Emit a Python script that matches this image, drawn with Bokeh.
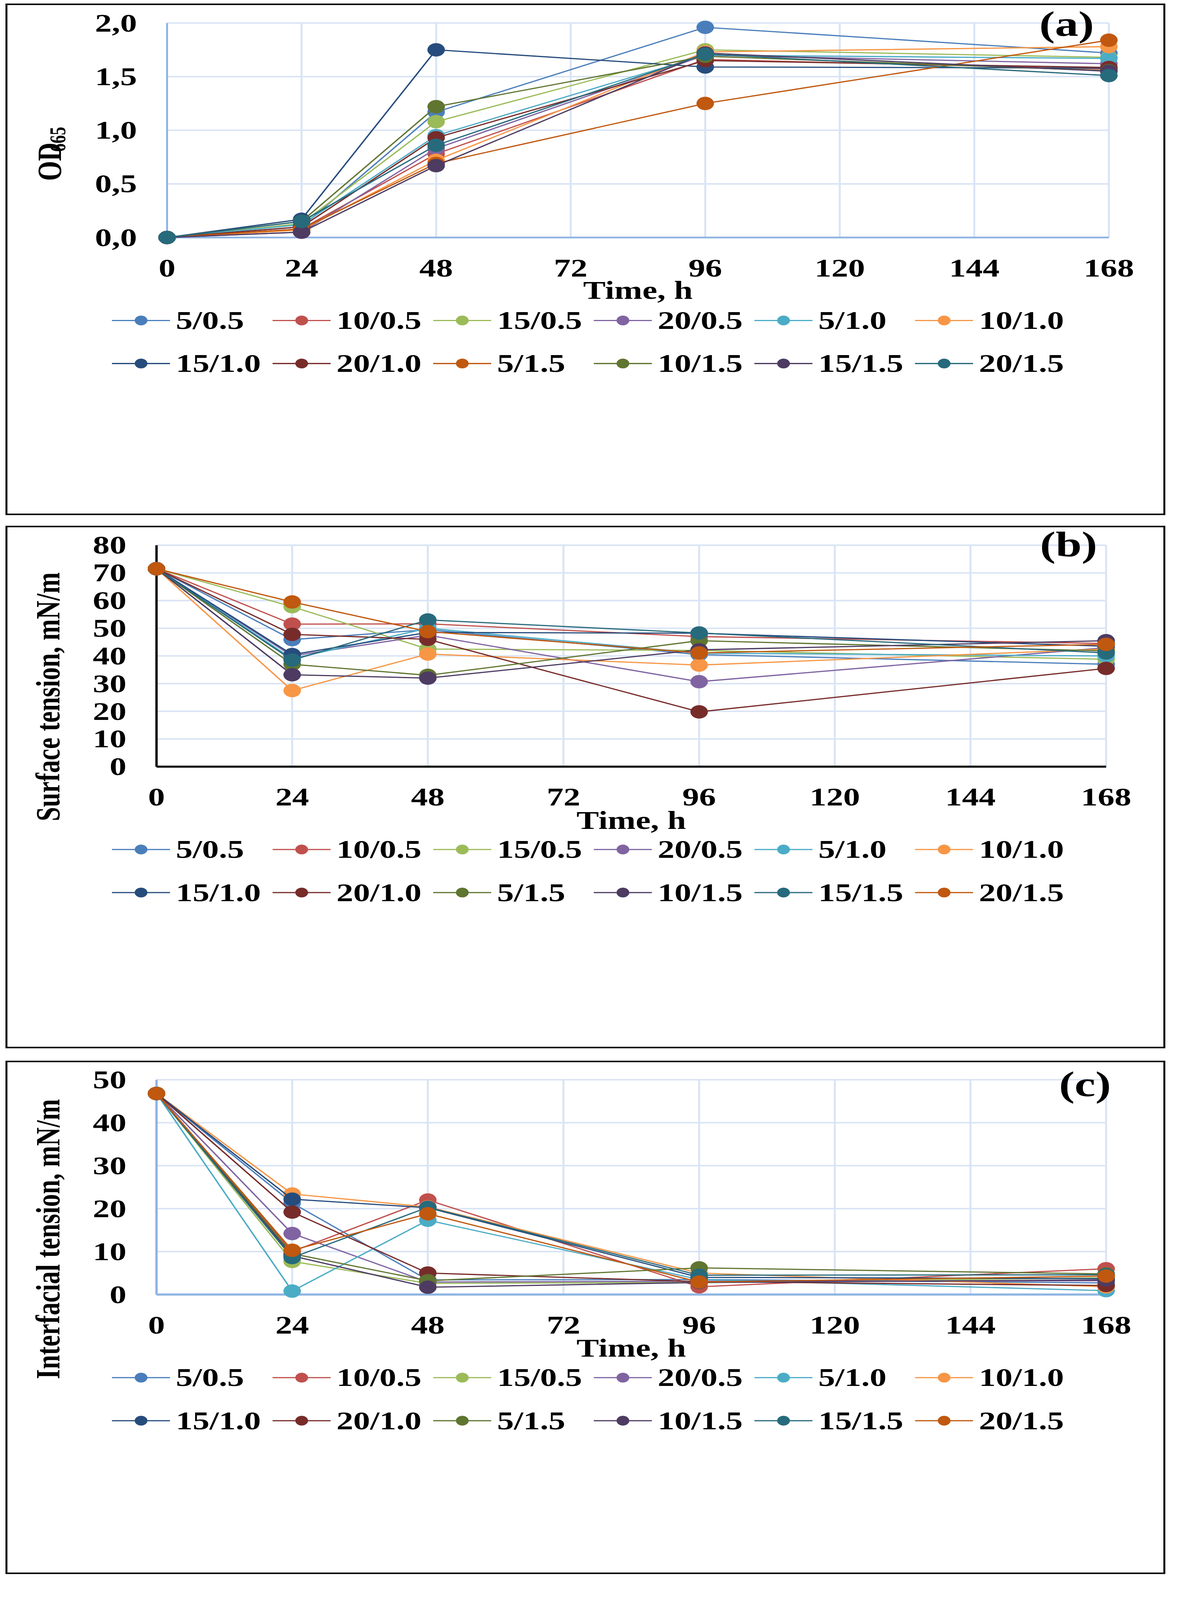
from bokeh.plotting import figure
from bokeh.models import FixedTicker, Legend, LegendItem, Label, Range1d
from bokeh.layouts import column
from bokeh.embed import file_html
from bokeh.resources import INLINE

# ---------------- data ----------------
times = [0, 24, 48, 96, 168]
x_ticks = [0, 24, 48, 72, 96, 120, 144, 168]

series_labels = ["5/0.5", "10/0.5", "15/0.5", "20/0.5", "5/1.0", "10/1.0",
                 "15/1.0", "20/1.0", "5/1.5", "10/1.5", "15/1.5", "20/1.5"]

BLUE, RED, GREEN, PURPLE = "#4A7EBB", "#C0504D", "#9BBB59", "#8064A2"
AQUA, ORANGE, NAVY, DRED = "#4BACC6", "#F79646", "#264C7D", "#772C2A"
DORANGE, OLIVE, DPURPLE, TEAL = "#C0580F", "#5F7530", "#4D3B62", "#276A7C"

colors_a = [BLUE, RED, GREEN, PURPLE, AQUA, ORANGE, NAVY, DRED, DORANGE, OLIVE, DPURPLE, TEAL]
colors_bc = [BLUE, RED, GREEN, PURPLE, AQUA, ORANGE, NAVY, DRED, OLIVE, DPURPLE, TEAL, DORANGE]

# (a) OD665
od_values = [
    [0.0, 0.10, 1.17, 1.96, 1.72],
    [0.0, 0.08, 0.78, 1.66, 1.57],
    [0.0, 0.13, 1.08, 1.75, 1.68],
    [0.0, 0.05, 0.83, 1.70, 1.62],
    [0.0, 0.12, 0.95, 1.70, 1.67],
    [0.0, 0.07, 0.72, 1.73, 1.78],
    [0.0, 0.17, 1.75, 1.59, 1.58],
    [0.0, 0.10, 0.93, 1.65, 1.585],
    [0.0, 0.08, 0.69, 1.25, 1.84],
    [0.0, 0.15, 1.22, 1.69, 1.555],
    [0.0, 0.05, 0.67, 1.72, 1.55],
    [0.0, 0.15, 0.86, 1.71, 1.51],
]
od_ticks = [0, 0.5, 1.0, 1.5, 2.0]
od_tick_labels = ["0,0", "0,5", "1,0", "1,5", "2,0"]

# (b) surface tension
st_values = [
    [71.5, 45.9, 49.5, 40.5, 37.0],
    [71.5, 51.5, 51.6, 47.0, 44.5],
    [71.5, 57.8, 42.5, 42.0, 38.8],
    [71.5, 40.0, 47.5, 30.7, 43.0],
    [71.5, 39.0, 50.0, 41.0, 40.0],
    [71.5, 27.5, 40.7, 36.7, 42.5],
    [71.5, 40.5, 48.5, 48.2, 43.5],
    [71.5, 47.8, 46.0, 19.8, 35.5],
    [71.5, 37.0, 33.0, 45.5, 41.8],
    [71.5, 33.2, 32.0, 42.2, 45.5],
    [71.5, 38.5, 53.0, 48.3, 41.1],
    [71.5, 59.5, 48.8, 41.1, 44.2],
]
st_ticks = [0, 10, 20, 30, 40, 50, 60, 70, 80]
st_tick_labels = ["0", "10", "20", "30", "40", "50", "60", "70", "80"]

# (c) interfacial tension
ift_values = [
    [46.8, 21.3, 3.4, 3.5, 2.7],
    [46.8, 10.0, 22.0, 1.8, 6.0],
    [46.8, 7.7, 2.6, 2.8, 3.9],
    [46.8, 14.2, 2.9, 3.1, 3.2],
    [46.8, 0.8, 17.3, 3.5, 0.9],
    [46.8, 23.4, 20.4, 5.0, 1.8],
    [46.8, 22.2, 20.2, 4.0, 3.7],
    [46.8, 19.2, 5.0, 3.0, 2.1],
    [46.8, 9.5, 3.2, 6.2, 4.8],
    [46.8, 9.0, 1.7, 2.8, 3.4],
    [46.8, 8.6, 20.3, 4.5, 4.6],
    [46.8, 10.3, 18.8, 2.9, 4.3],
]
ift_ticks = [0, 10, 20, 30, 40, 50]
ift_tick_labels = ["0", "10", "20", "30", "40", "50"]

# ---------------- styling / geometry (page pixels) ----------------
FONT = "Liberation Serif"
FS = "86px"
GRID = "#D9E4F5"
W = 2968            # canvas width
CX0 = 27            # canvas left on page
PAGE_SY = 0.76      # vertical squeeze of the whole page so it fits the photographed window


def text_label(x, y, text, size=FS, angle=0.0, align="center"):
    return Label(x=x, y=y, text=text, angle=angle, text_align=align,
                 text_baseline="middle", text_font=FONT, text_font_style="bold",
                 text_font_size=size, text_color="black")


def make_panel(values, colors, yticks, yticklabels, geom, margin_top,
               axis_color, axis_w, ytitles, tag, tag_pos, time_y, legend_bottom):
    cy0, H, x0px, xendpx, y0px, ytoppx = geom
    xend = x_ticks[-1]
    ytop = yticks[-1]

    def X(px):
        return (px - x0px) / (xendpx - x0px) * xend

    def Y(py):
        return (y0px - py) / (y0px - ytoppx) * ytop

    p = figure(width=W, height=H,
               x_range=Range1d(X(CX0), X(CX0 + W)), y_range=Range1d(Y(cy0 + H), Y(cy0)),
               output_backend="svg", toolbar_location=None,
               min_border_left=0, min_border_right=0, min_border_top=0, min_border_bottom=0,
               margin=(margin_top, 0, 0, 14),
               styles={"border": "5px solid black"})
    p.outline_line_color = None
    p.grid.visible = False
    p.background_fill_color = "white"

    # grid lines
    p.segment(x0=x_ticks[1:], y0=[0] * (len(x_ticks) - 1), x1=x_ticks[1:],
              y1=[ytop] * (len(x_ticks) - 1), line_color=GRID, line_width=5)
    p.segment(x0=[0] * (len(yticks) - 1), y0=yticks[1:], x1=[xend] * (len(yticks) - 1),
              y1=yticks[1:], line_color=GRID, line_width=5)
    # axis lines
    p.segment(x0=[0], y0=[0], x1=[xend], y1=[0], line_color=axis_color, line_width=axis_w)
    p.segment(x0=[0], y0=[0], x1=[0], y1=[ytop], line_color=axis_color, line_width=axis_w - 1)

    items = []
    for lab, vals, c in zip(series_labels, values, colors):
        rl = p.line(times, vals, line_color=c, line_width=4)
        rs = p.scatter(times, vals, marker="circle", size=44, fill_color=c, line_color=c)
        items.append(LegendItem(label=lab, renderers=[rl, rs]))

    for ax in (p.xaxis[0], p.yaxis[0]):
        ax.fixed_location = 0
        ax.axis_line_color = None
        ax.major_tick_line_color = None
        ax.minor_tick_line_color = None
        ax.major_tick_out = 0
        ax.major_tick_in = 0
        ax.major_label_text_font = FONT
        ax.major_label_text_font_style = "bold"
        ax.major_label_text_font_size = FS
        ax.major_label_text_color = "black"

    p.xaxis.ticker = FixedTicker(ticks=x_ticks)
    p.xaxis.major_label_standoff = 74
    p.yaxis.ticker = FixedTicker(ticks=yticks)
    p.yaxis.major_label_overrides = {t: l for t, l in zip(yticks, yticklabels)}
    p.yaxis.major_label_standoff = 77

    # axis titles
    p.add_layout(text_label(xend / 2, Y(time_y), "Time, h"))
    for (txt, size, px, py, align) in ytitles:
        p.add_layout(text_label(X(px), Y(py), txt, size=size, angle=1.5707963, align=align))

    # panel tag
    p.add_layout(text_label(X(tag_pos[0]), Y(tag_pos[1]), tag, size="120px"))

    legend = Legend(items=items, location=(294 - CX0, cy0 + H - legend_bottom),
                    orientation="horizontal", nrows=2,
                    glyph_width=149, glyph_height=80, label_height=120, label_width=222,
                    label_standoff=15, spacing=25, padding=0, margin=0,
                    border_line_color=None, background_fill_alpha=0,
                    label_text_font=FONT, label_text_font_style="bold",
                    label_text_font_size=FS, label_text_color="black")
    p.add_layout(legend, "center")
    return p


pa = make_panel(od_values, colors_a, od_ticks, od_tick_labels,
                (25, 1723, 435, 2845, 1055, 104), 12, "#8EB4E3", 6,
                [("OD", FS, 135, 804, "left"), ("665", "56px", 155, 675, "left")],
                "(a)", (2737, 108), 1289, 1706)
pb = make_panel(st_values, colors_bc, st_ticks, st_tick_labels,
                (1794, 1760, 408, 2838, 2855, 1873), 36, "black", 7,
                [("Surface tension, mN/m", FS, 131, 2545, "center")],
                "(b)", (2742, 1868), 3093, 3507)
pc = make_panel(ift_values, colors_bc, ift_ticks, ift_tick_labels,
                (3606, 1729, 408, 2838, 4635, 3683), 42, "#8EB4E3", 7,
                [("Interfacial tension, mN/m", FS, 131, 4389, "center")],
                "(c)", (2784, 3702), 4873, 5288)

layout = column(pa, pb, pc, spacing=0,
                styles={"transform": "scale(1, %s)" % PAGE_SY, "transform-origin": "0 0"})
open("out.html", "w").write(file_html(layout, INLINE))
